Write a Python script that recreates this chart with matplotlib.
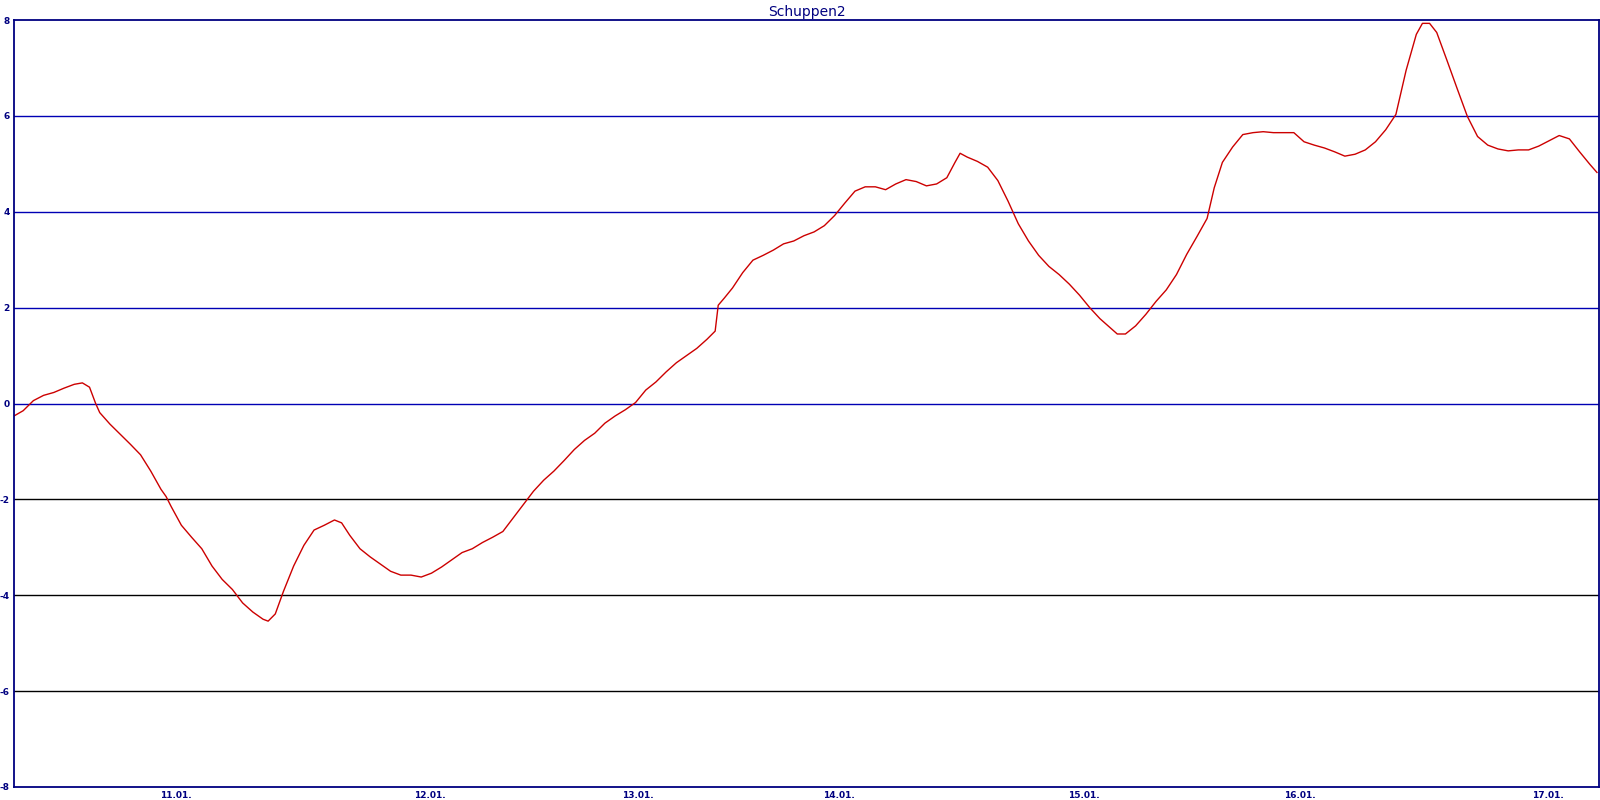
#!/usr/bin/env python3
"""Temperature curve 'Schuppen2' recreated with matplotlib."""

import matplotlib
matplotlib.use('Agg')
import matplotlib.pyplot as plt
import numpy as np

# sample position along the time axis (one unit ~ one screen column)
sample_pos = [0, 9, 19, 29, 39, 49, 59, 67, 74, 80, 84, 94, 104, 114, 124, 134, 144, 149,
              154, 164, 174, 184, 194, 204, 214, 224, 234, 244, 249, 256, 264, 274, 284,
              294, 304, 314, 321, 329, 339, 349, 359, 369, 379, 389, 399, 409, 419, 429,
              439, 449, 459, 469, 479, 489, 499, 509, 519, 529, 539, 549, 559, 569, 579,
              589, 599, 609, 619, 629, 639, 649, 659, 669, 679, 687, 690, 696, 704, 714,
              724, 734, 744, 754, 764, 774, 784, 794, 804, 814, 824, 834, 844, 854, 864,
              874, 884, 894, 904, 914, 922, 927, 934, 944, 954, 964, 974, 984, 994, 1004,
              1014, 1024, 1034, 1044, 1054, 1064, 1074, 1081, 1089, 1099, 1109, 1119,
              1129, 1139, 1149, 1159, 1169, 1176, 1184, 1194, 1204, 1214, 1224, 1234,
              1244, 1254, 1264, 1274, 1284, 1294, 1304, 1314, 1324, 1334, 1344, 1354,
              1364, 1374, 1380, 1387, 1394, 1404, 1414, 1424, 1434, 1444, 1454, 1464,
              1474, 1484, 1494, 1504, 1514, 1524, 1534, 1544, 1551]

temperature = [-0.26, -0.15, 0.06, 0.17, 0.23, 0.32, 0.40, 0.43, 0.34, 0.00, -0.19, -0.43,
               -0.64, -0.85, -1.07, -1.41, -1.79, -1.94, -2.15, -2.54, -2.79, -3.03, -3.39,
               -3.67, -3.88, -4.16, -4.35, -4.50, -4.54, -4.39, -3.92, -3.39, -2.96, -2.64,
               -2.54, -2.43, -2.49, -2.75, -3.03, -3.20, -3.35, -3.50, -3.58, -3.58, -3.62,
               -3.54, -3.41, -3.26, -3.11, -3.03, -2.90, -2.79, -2.67, -2.39, -2.11, -1.83,
               -1.60, -1.41, -1.19, -0.96, -0.77, -0.62, -0.41, -0.26, -0.13, 0.02, 0.28,
               0.45, 0.66, 0.85, 1.00, 1.15, 1.34, 1.51, 2.05, 2.20, 2.41, 2.73, 2.99, 3.09,
               3.20, 3.33, 3.39, 3.50, 3.58, 3.71, 3.92, 4.18, 4.43, 4.52, 4.52, 4.46, 4.58,
               4.67, 4.63, 4.54, 4.58, 4.71, 5.03, 5.22, 5.14, 5.05, 4.93, 4.65, 4.22, 3.75,
               3.39, 3.09, 2.86, 2.69, 2.49, 2.26, 2.00, 1.77, 1.58, 1.45, 1.45, 1.62, 1.86,
               2.13, 2.37, 2.69, 3.11, 3.48, 3.86, 4.50, 5.03, 5.35, 5.61, 5.65, 5.67, 5.65,
               5.65, 5.65, 5.46, 5.39, 5.33, 5.25, 5.16, 5.20, 5.29, 5.46, 5.71, 6.03, 6.95,
               7.70, 7.93, 7.93, 7.74, 7.16, 6.57, 5.99, 5.57, 5.39, 5.31, 5.27, 5.29, 5.29,
               5.37, 5.48, 5.59, 5.52, 5.25, 4.99, 4.82]

day_pos = [159, 407, 611, 808, 1048, 1260, 1503]
day_labels = ['11.01.', '12.01.', '13.01.', '14.01.', '15.01.', '16.01.', '17.01.']

y_ticks = [8, 6, 4, 2, 0, -2, -4, -6, -8]

NAVY = '#000080'
BLUE = '#0000b4'

fig = plt.figure(figsize=(16, 8), dpi=100)
fig.patch.set_facecolor('white')
ax = fig.add_axes([14 / 1600, 13 / 800, 1585 / 1600, 767 / 800])

# horizontal grid: blue above zero, black below
for yv in y_ticks[1:-1]:
    ax.axhline(yv, color=BLUE if yv >= 0 else 'black', linewidth=1.0, zorder=1)

ax.plot(sample_pos, temperature, color='#cc0000', linewidth=1.0, zorder=2)

ax.set_xlim(0, 1553)
ax.set_ylim(-8, 8)
ax.set_yticks(y_ticks)
ax.set_yticklabels([str(v) for v in y_ticks])
ax.set_xticks(day_pos)
ax.set_xticklabels(day_labels)
ax.tick_params(axis='both', length=0, labelsize=6.5, colors=NAVY)
ax.tick_params(axis='x', pad=3)
ax.tick_params(axis='y', pad=3)
for lbl in ax.get_xticklabels() + ax.get_yticklabels():
    lbl.set_fontweight('bold')

for spine in ax.spines.values():
    spine.set_color(NAVY)
    spine.set_linewidth(1.3)

ax.set_title('Schuppen2', fontsize=10, color=NAVY, pad=3)

fig.savefig('out.png', dpi=100, facecolor='white')
plt.close(fig)
